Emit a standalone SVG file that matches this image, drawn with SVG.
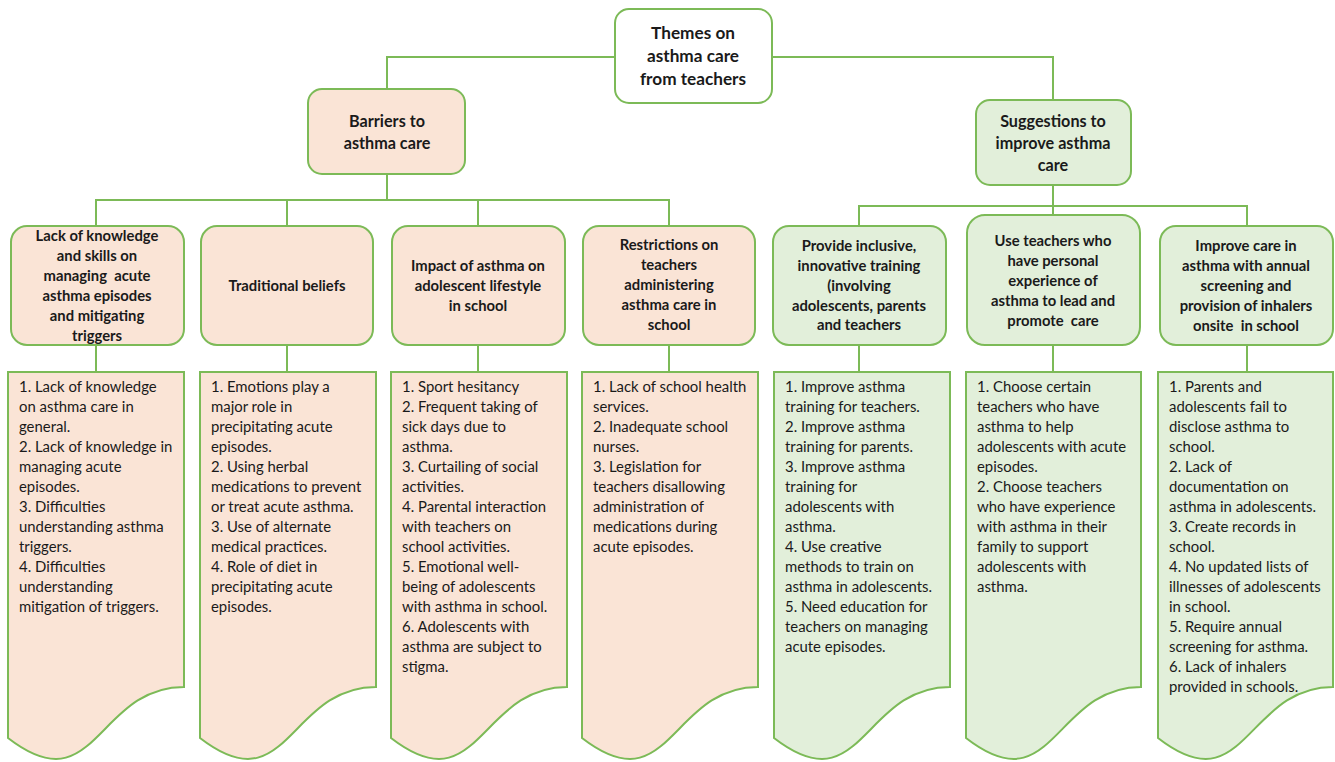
<svg xmlns="http://www.w3.org/2000/svg" width="1335" height="762" viewBox="0 0 1335 762">
<style>
.pk{fill:#fae4d6;stroke:#7cba57;stroke-width:2}
.gr{fill:#e2efda;stroke:#7cba57;stroke-width:2}
.wh{fill:#ffffff;stroke:#7cba57;stroke-width:2}
.ln{fill:none;stroke:#7cba57;stroke-width:2}
.h{font-family:Lato,"Liberation Sans",sans-serif;font-weight:bold;font-size:14.8px;fill:#1a1a1a;text-anchor:middle}
.h1{font-size:17.2px}
.h2{font-size:16.2px}
.b{font-family:Lato,"Liberation Sans",sans-serif;font-size:14.9px;fill:#1a1a1a}
</style>
<rect width="1335" height="762" fill="#ffffff"/>
<g id="connectors">
<path class="ln" d="M615,57 H387 V89 M772,57 H1053 V100"/>
<path class="ln" d="M387,174 V200 M96,226 V200 H669 V226 M287,200 V226 M478,200 V226"/>
<path class="ln" d="M1053,185 V215 M859,226 V206 H1247 V226"/>
<path class="ln" d="M96,345 V372 M287,345 V372 M478,345 V372 M669,345 V372 M859,345 V372 M1053,345 V372 M1247,345 V372"/>
</g>
<g id="root">
<rect class="wh" x="615" y="9" width="157" height="94" rx="14"/>
<text class="h h1"><tspan x="693" y="39">Themes on</tspan><tspan x="693" y="62">asthma care</tspan><tspan x="693" y="85">from teachers</tspan></text>
</g>
<g id="barriers">
<rect class="pk" x="308" y="89" width="157" height="85" rx="14"/>
<text class="h h2"><tspan x="387" y="127">Barriers to</tspan><tspan x="387" y="149">asthma care</tspan></text>
</g>
<g id="suggestions">
<rect class="gr" x="976" y="100" width="155" height="85" rx="14"/>
<text class="h h2"><tspan x="1053" y="127">Suggestions to</tspan><tspan x="1053" y="149">improve asthma</tspan><tspan x="1053" y="171">care</tspan></text>
</g>
<g id="b1">
<rect class="pk" x="11" y="226" width="173" height="119" rx="16"/>
<text class="h"><tspan x="97" y="241">Lack of knowledge</tspan><tspan x="97" y="261">and skills on</tspan><tspan x="97" y="281" xml:space="preserve">managing  acute</tspan><tspan x="97" y="301">asthma episodes</tspan><tspan x="97" y="321">and mitigating</tspan><tspan x="97" y="341">triggers</tspan></text>
</g>
<g id="b2">
<rect class="pk" x="201" y="226" width="172" height="119" rx="16"/>
<text class="h"><tspan x="287" y="291">Traditional beliefs</tspan></text>
</g>
<g id="b3">
<rect class="pk" x="392" y="226" width="173" height="119" rx="16"/>
<text class="h"><tspan x="478" y="271">Impact of asthma on</tspan><tspan x="478" y="291">adolescent lifestyle</tspan><tspan x="478" y="311">in school</tspan></text>
</g>
<g id="b4">
<rect class="pk" x="583" y="226" width="172" height="119" rx="16"/>
<text class="h"><tspan x="669" y="250">Restrictions on</tspan><tspan x="669" y="270">teachers</tspan><tspan x="669" y="290">administering</tspan><tspan x="669" y="310">asthma care in</tspan><tspan x="669" y="330">school</tspan></text>
</g>
<g id="s1">
<rect class="gr" x="773" y="226" width="173" height="119" rx="16"/>
<text class="h"><tspan x="859" y="251">Provide inclusive,</tspan><tspan x="859" y="271">innovative training</tspan><tspan x="859" y="291">(involving</tspan><tspan x="859" y="311">adolescents, parents</tspan><tspan x="859" y="330">and teachers</tspan></text>
</g>
<g id="s2">
<rect class="gr" x="967" y="215" width="173" height="130" rx="18"/>
<text class="h"><tspan x="1053" y="246">Use teachers who</tspan><tspan x="1053" y="266">have personal</tspan><tspan x="1053" y="286">experience of</tspan><tspan x="1053" y="306">asthma to lead and</tspan><tspan x="1053" y="326" xml:space="preserve">promote  care</tspan></text>
</g>
<g id="s3">
<rect class="gr" x="1160" y="226" width="173" height="119" rx="16"/>
<text class="h"><tspan x="1246" y="251">Improve care in</tspan><tspan x="1246" y="271">asthma with annual</tspan><tspan x="1246" y="291">screening and</tspan><tspan x="1246" y="311">provision of inhalers</tspan><tspan x="1246" y="331" xml:space="preserve">onsite  in school</tspan></text>
</g>
<g id="d1">
<path class="pk" d="M8,372 H184 V687 C96,687 96,806 8,738 Z"/>
<text class="b"><tspan x="19" y="392">1. Lack of knowledge</tspan><tspan x="19" y="412">on asthma care in</tspan><tspan x="19" y="432">general.</tspan><tspan x="19" y="452">2. Lack of knowledge in</tspan><tspan x="19" y="472">managing acute</tspan><tspan x="19" y="492">episodes.</tspan><tspan x="19" y="512">3. Difficulties</tspan><tspan x="19" y="532">understanding asthma</tspan><tspan x="19" y="552">triggers.</tspan><tspan x="19" y="572">4. Difficulties</tspan><tspan x="19" y="592">understanding</tspan><tspan x="19" y="612">mitigation of triggers.</tspan></text>
</g>
<g id="d2">
<path class="pk" d="M200,372 H376 V687 C288,687 288,806 200,738 Z"/>
<text class="b"><tspan x="211" y="392">1. Emotions play a</tspan><tspan x="211" y="412">major role in</tspan><tspan x="211" y="432">precipitating acute</tspan><tspan x="211" y="452">episodes.</tspan><tspan x="211" y="472">2. Using herbal</tspan><tspan x="211" y="492">medications to prevent</tspan><tspan x="211" y="512">or treat acute asthma.</tspan><tspan x="211" y="532">3. Use of alternate</tspan><tspan x="211" y="552">medical practices.</tspan><tspan x="211" y="572">4. Role of diet in</tspan><tspan x="211" y="592">precipitating acute</tspan><tspan x="211" y="612">episodes.</tspan></text>
</g>
<g id="d3">
<path class="pk" d="M391,372 H567 V687 C479,687 479,806 391,738 Z"/>
<text class="b"><tspan x="402" y="392">1. Sport hesitancy</tspan><tspan x="402" y="412">2. Frequent taking of</tspan><tspan x="402" y="432">sick days due to</tspan><tspan x="402" y="452">asthma.</tspan><tspan x="402" y="472">3. Curtailing of social</tspan><tspan x="402" y="492">activities.</tspan><tspan x="402" y="512">4. Parental interaction</tspan><tspan x="402" y="532">with teachers on</tspan><tspan x="402" y="552">school activities.</tspan><tspan x="402" y="572">5. Emotional well-</tspan><tspan x="402" y="592">being of adolescents</tspan><tspan x="402" y="612">with asthma in school.</tspan><tspan x="402" y="632">6. Adolescents with</tspan><tspan x="402" y="652">asthma are subject to</tspan><tspan x="402" y="672">stigma.</tspan></text>
</g>
<g id="d4">
<path class="pk" d="M582,372 H758 V687 C670,687 670,806 582,738 Z"/>
<text class="b"><tspan x="593" y="392">1. Lack of school health</tspan><tspan x="593" y="412">services.</tspan><tspan x="593" y="432">2. Inadequate school</tspan><tspan x="593" y="452">nurses.</tspan><tspan x="593" y="472">3. Legislation for</tspan><tspan x="593" y="492">teachers disallowing</tspan><tspan x="593" y="512">administration of</tspan><tspan x="593" y="532">medications during</tspan><tspan x="593" y="552">acute episodes.</tspan></text>
</g>
<g id="d5">
<path class="gr" d="M774,372 H950 V687 C862,687 862,806 774,738 Z"/>
<text class="b"><tspan x="785" y="392">1. Improve asthma</tspan><tspan x="785" y="412">training for teachers.</tspan><tspan x="785" y="432">2. Improve asthma</tspan><tspan x="785" y="452">training for parents.</tspan><tspan x="785" y="472">3. Improve asthma</tspan><tspan x="785" y="492">training for</tspan><tspan x="785" y="512">adolescents with</tspan><tspan x="785" y="532">asthma.</tspan><tspan x="785" y="552">4. Use creative</tspan><tspan x="785" y="572">methods to train on</tspan><tspan x="785" y="592">asthma in adolescents.</tspan><tspan x="785" y="612">5. Need education for</tspan><tspan x="785" y="632">teachers on managing</tspan><tspan x="785" y="652">acute episodes.</tspan></text>
</g>
<g id="d6">
<path class="gr" d="M966,372 H1141 V687 C1053.5,687 1053.5,806 966,738 Z"/>
<text class="b"><tspan x="977" y="392">1. Choose certain</tspan><tspan x="977" y="412">teachers who have</tspan><tspan x="977" y="432">asthma to help</tspan><tspan x="977" y="452">adolescents with acute</tspan><tspan x="977" y="472">episodes.</tspan><tspan x="977" y="492">2. Choose teachers</tspan><tspan x="977" y="512">who have experience</tspan><tspan x="977" y="532">with asthma in their</tspan><tspan x="977" y="552">family to support</tspan><tspan x="977" y="572">adolescents with</tspan><tspan x="977" y="592">asthma.</tspan></text>
</g>
<g id="d7">
<path class="gr" d="M1158,372 H1333 V687 C1245.5,687 1245.5,806 1158,738 Z"/>
<text class="b"><tspan x="1169" y="392">1. Parents and</tspan><tspan x="1169" y="412">adolescents fail to</tspan><tspan x="1169" y="432">disclose asthma to</tspan><tspan x="1169" y="452">school.</tspan><tspan x="1169" y="472">2. Lack of</tspan><tspan x="1169" y="492">documentation on</tspan><tspan x="1169" y="512">asthma in adolescents.</tspan><tspan x="1169" y="532">3. Create records in</tspan><tspan x="1169" y="552">school.</tspan><tspan x="1169" y="572">4. No updated lists of</tspan><tspan x="1169" y="592">illnesses of adolescents</tspan><tspan x="1169" y="612">in school.</tspan><tspan x="1169" y="632">5. Require annual</tspan><tspan x="1169" y="652">screening for asthma.</tspan><tspan x="1169" y="672">6. Lack of inhalers</tspan><tspan x="1169" y="692">provided in schools.</tspan></text>
</g>
</svg>
